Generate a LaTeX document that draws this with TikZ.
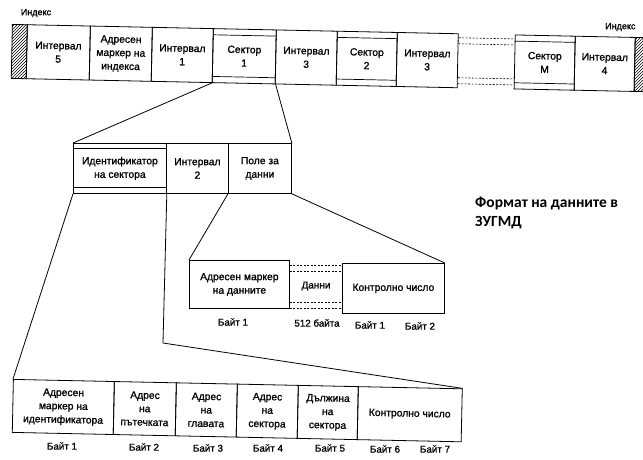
\documentclass[tikz,border=0pt]{standalone}
\usepackage{fontspec}
\setmainfont{Liberation Sans}
\newfontfamily\cellfont[FakeBold=1.2]{Liberation Sans}
\newfontfamily\titlefont{Carlito}
\usetikzlibrary{calc,patterns}
\begin{document}
\begin{tikzpicture}[x=1pt,y=-1pt,
  cell/.style={draw,line width=0.8pt,inner sep=0pt,align=center,anchor=north west,
    font=\cellfont\fontsize{10.3}{13.5}\selectfont},
  hatchbox/.style={cell,pattern=north east lines},
  dsh/.style={line width=0.6pt,dash pattern=on 2pt off 1.5pt},
  conn/.style={line width=0.8pt},
  lbl/.style={font=\cellfont\fontsize{9.8}{11}\selectfont,inner sep=0pt},
  ttl/.style={font=\titlefont\bfseries\fontsize{15.5}{18}\selectfont,anchor=base west,inner sep=0pt}]
\useasboundingbox (0,0) rectangle (643,459);
% ---------- top row ----------
\node[lbl,font=\cellfont\fontsize{9}{10}\selectfont] (idxL) at (36,13) {Индекс};
\begin{scope}[rotate around={-1.2:(12,24)}]
  \node[hatchbox,transform shape,minimum width=15,minimum height=54] (hl) at (12,24) {};
  \node[cell,transform shape,minimum width=63,minimum height=54] (i5) at (27,24) {Интервал\\5};
  \node[cell,transform shape,minimum width=62,minimum height=54] (am) at (90,24) {Адресен\\маркер на\\индекса};
  \node[cell,transform shape,minimum width=61,minimum height=54] (i1) at (152,24) {Интервал\\1};
  \node[cell,transform shape,minimum width=63,minimum height=54] (s1) at (213,24) {Сектор\\1};
  \node[cell,transform shape,minimum width=61,minimum height=54] (i3) at (276,24) {Интервал\\3};
  \node[cell,transform shape,minimum width=60,minimum height=54] (s2) at (337,24) {Сектор\\2};
  \node[cell,transform shape,minimum width=61,minimum height=54] (i3b) at (397,24) {Интервал\\3};
  \node[cell,transform shape,minimum width=60,minimum height=54] (sM) at (515,24) {Сектор\\М};
  \node[cell,transform shape,minimum width=60,minimum height=54] (i4) at (575,24) {Интервал\\4};
  \node[hatchbox,transform shape,minimum width=10,minimum height=54] (hr) at (635,24) {};
\end{scope}
\node[lbl,font=\cellfont\fontsize{9}{10}\selectfont,anchor=west] (idxR) at (605,27) {Индекс};
\foreach \s in {s1,s2,sM}{
  \draw[line width=0.7pt] ($(\s.north west)!0.12!(\s.south west)$) -- ($(\s.north east)!0.12!(\s.south east)$);
  \draw[line width=0.7pt] ($(\s.north west)!0.88!(\s.south west)$) -- ($(\s.north east)!0.88!(\s.south east)$);
}
\foreach \f in {0.08,0.19,0.81,0.92}
  \draw[dsh] ($(i3b.north east)!\f!(i3b.south east)$) -- ($(sM.north west)!\f!(sM.south west)$);
% ---------- sector row ----------
\node[cell,minimum width=93,minimum height=50] (id) at (73,143) {Идентификатор\\на сектора};
\node[cell,minimum width=62,minimum height=50] (i2) at (166,143) {Интервал\\2};
\node[cell,minimum width=63,minimum height=50] (fld) at (228,143) {Поле за\\данни};
\draw[line width=0.7pt] ($(id.north west)!0.1!(id.south west)$) -- ($(id.north east)!0.1!(id.south east)$);
\draw[line width=0.7pt] ($(id.north west)!0.88!(id.south west)$) -- ($(id.north east)!0.88!(id.south east)$);
\draw[conn] (s1.south west) -- (id.north west);
\draw[conn] (s1.south east) -- (fld.north east);
% ---------- data field row ----------
\node[cell,minimum width=100,minimum height=48] (mk) at (189,260) {Адресен маркер\\на данните};
\node[cell,minimum width=102,minimum height=50] (ctrl) at (342,263) {Контролно число};
\node[lbl,font=\cellfont\fontsize{10}{12}\selectfont] (dan) at (316,286) {Данни};
\foreach \d in {5,11,42,48}
  \draw[dsh] ($(mk.north east)+(0,\d)$) -- ($(mk.north east -| ctrl.west)+(0,\d)$);
\draw[conn] (fld.south west) -- (mk.north west);
\draw[conn] (fld.south east) -- (ctrl.north east);
\node[lbl] (db1) at (233,322) {Байт 1};
\node[lbl] (d512) at (317,323) {512 байта};
\node[lbl] (db1b) at (370,325) {Байт 1};
\node[lbl] (db2) at (420,326) {Байт 2};
% ---------- id row ----------
\begin{scope}[rotate around={-1.2:(13,379)}]
  \node[cell,transform shape,minimum width=101,minimum height=53] (b1) at (13,379) {Адресен\\маркер на\\идентификатора};
  \node[cell,transform shape,minimum width=62,minimum height=53] (b2) at (114,379) {Адрес\\на\\пътечката};
  \node[cell,transform shape,minimum width=61,minimum height=53] (b3) at (176,379) {Адрес\\на\\главата};
  \node[cell,transform shape,minimum width=61,minimum height=53] (b4) at (237,379) {Адрес\\на\\сектора};
  \node[cell,transform shape,minimum width=60,minimum height=53] (b5) at (298,379) {Дължина\\на\\сектора};
  \node[cell,transform shape,minimum width=104,minimum height=53] (b6) at (358,379) {Контролно число};
\end{scope}
\coordinate (bend) at (163,343);
\draw[conn] (id.south west) -- (b1.north west);
\draw[conn] (id.south east) -- (bend) -- (b6.north east);
\node[lbl] (l1) at (62,446) {Байт 1};
\node[lbl] (l2) at (144,447) {Байт 2};
\node[lbl] (l3) at (208,448) {Байт 3};
\node[lbl] (l4) at (268,448) {Байт 4};
\node[lbl] (l5) at (330,448) {Байт 5};
\node[lbl] (l6) at (385,449) {Байт 6};
\node[lbl] (l7) at (435,449) {Байт 7};
% ---------- title ----------
\node[ttl] (t1) at (475,207) {Формат на данните в};
\node[ttl] (t2) at (475,226) {ЗУГМД};
\end{tikzpicture}
\end{document}
